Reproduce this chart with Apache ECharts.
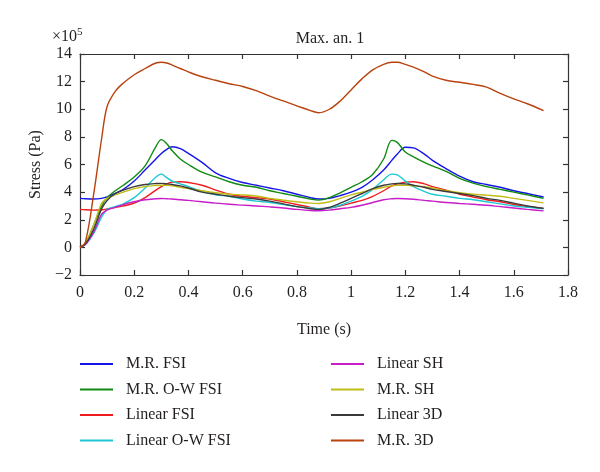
<!DOCTYPE html>
<html>
<head>
<meta charset="utf-8">
<script src="https://cdn.jsdelivr.net/npm/echarts@6/dist/echarts.min.js"></script>
<style>html,body{margin:0;padding:0;background:#fff}#c{width:600px;height:472px}</style>
</head>
<body>
<div id="c"></div>
<script>
// Time (s)
const time = [0,0.02,0.05,0.08,0.1,0.13,0.16,0.2,0.24,0.28,0.3,0.32,0.34,0.37,0.4,0.45,0.5,0.55,0.6,0.65,0.7,0.75,0.8,0.85,0.88,0.92,0.96,1.0,1.04,1.08,1.12,1.15,1.17,1.2,1.23,1.27,1.3,1.35,1.4,1.45,1.5,1.55,1.6,1.65,1.71];
// Stress values (x1e5 Pa)
const mrFSI = [3.55,3.52,3.5,3.55,3.65,3.9,4.2,4.8,5.6,6.4,6.8,7.1,7.28,7.15,6.8,6.15,5.4,5.0,4.7,4.5,4.3,4.1,3.85,3.6,3.5,3.55,3.75,4.0,4.35,4.9,5.6,6.3,6.75,7.25,7.2,6.75,6.3,5.7,5.15,4.75,4.55,4.35,4.1,3.9,3.65];
const mrOWFSI = [0,0.3,1.6,3.0,3.6,4.1,4.5,5.1,5.9,7.3,7.8,7.5,7.0,6.4,6.0,5.45,5.1,4.75,4.5,4.35,4.1,3.9,3.7,3.5,3.42,3.6,3.95,4.35,4.75,5.3,6.4,7.75,7.6,6.9,6.55,6.15,5.9,5.5,5.0,4.65,4.4,4.2,4.0,3.8,3.55];
const linFSI = [2.75,2.72,2.7,2.72,2.78,2.9,3.0,3.2,3.6,4.15,4.4,4.6,4.72,4.75,4.7,4.5,4.15,3.85,3.7,3.6,3.5,3.3,3.1,2.9,2.8,2.85,3.0,3.2,3.4,3.7,4.1,4.45,4.6,4.72,4.75,4.6,4.4,4.15,3.85,3.65,3.45,3.3,3.1,2.95,2.82];
const linOWFSI = [0,0.2,1.0,2.2,2.75,2.95,3.15,3.6,4.3,5.1,5.3,5.05,4.8,4.6,4.4,4.05,3.8,3.7,3.5,3.35,3.25,3.1,2.95,2.85,2.8,2.85,3.05,3.35,3.7,4.2,4.9,5.3,5.25,4.8,4.4,4.05,3.85,3.7,3.55,3.45,3.3,3.15,3.0,2.9,2.8];
const linSH = [0,0.2,1.1,2.4,2.7,2.9,3.1,3.3,3.45,3.52,3.54,3.52,3.5,3.45,3.4,3.3,3.2,3.12,3.06,3.0,2.93,2.85,2.75,2.67,2.65,2.7,2.8,2.9,3.05,3.25,3.45,3.52,3.54,3.52,3.48,3.4,3.35,3.25,3.18,3.12,3.05,2.95,2.85,2.75,2.64];
const mrSH = [0,0.3,1.6,3.2,3.55,3.8,4.0,4.25,4.4,4.48,4.5,4.5,4.45,4.35,4.25,4.1,3.95,3.85,3.8,3.72,3.55,3.42,3.3,3.2,3.18,3.3,3.55,3.8,4.0,4.2,4.35,4.45,4.5,4.5,4.45,4.4,4.3,4.1,3.95,3.85,3.78,3.7,3.55,3.4,3.22];
const lin3D = [0,0.25,1.3,2.8,3.4,3.9,4.15,4.4,4.55,4.62,4.63,4.6,4.55,4.45,4.3,4.0,3.85,3.7,3.6,3.5,3.35,3.15,2.95,2.8,2.75,2.9,3.2,3.55,3.9,4.25,4.5,4.6,4.62,4.6,4.5,4.35,4.2,4.05,3.9,3.75,3.55,3.4,3.2,3.0,2.82];
const mr3D = [0,0.4,3.8,7.9,10.2,11.3,11.9,12.5,12.95,13.35,13.4,13.35,13.2,12.95,12.7,12.35,12.1,11.85,11.65,11.35,10.95,10.6,10.25,9.9,9.75,10.0,10.6,11.4,12.2,12.85,13.25,13.4,13.4,13.25,13.05,12.7,12.4,12.1,11.95,11.8,11.6,11.15,10.75,10.4,9.9];

const names = ['M.R. FSI','M.R. O-W FSI','Linear FSI','Linear O-W FSI','Linear SH','M.R. SH','Linear 3D','M.R. 3D'];
const values = [mrFSI, mrOWFSI, linFSI, linOWFSI, linSH, mrSH, lin3D, mr3D];
const colors = ['#1414e6','#108a10','#ee1c1c','#1cc8d4','#c81cc8','#c2bc14','#3a3a3a','#b8430f'];
const xTicks = [0,0.2,0.4,0.6,0.8,1,1.2,1.4,1.6,1.8];
const yTicks = [-2,0,2,4,6,8,10,12,14];

const FONT = 'Liberation Serif';
const TXT = '#231f20';
const chart = echarts.init(document.getElementById('c'), null, {renderer:'canvas'});

const axisCommon = {
  axisLine:{show:true, onZero:false, lineStyle:{color:'#333', width:1.2}},
  axisTick:{show:true, inside:true, length:5, lineStyle:{color:'#333', width:1.2}},
  splitLine:{show:false}
};

chart.setOption({
  animation:false,
  backgroundColor:'#fff',
  title:{text:'Max. an. 1', left:325, top:26, textAlign:'center',
    textStyle:{fontFamily:FONT, fontSize:16, fontWeight:'normal', color:TXT}},
  grid:{left:80, right:32, top:54, bottom:197},
  graphic:[{type:'text', left:52, top:27,
    style:{text:'×10{s|5}', rich:{s:{fontSize:11, fontFamily:FONT, fill:TXT, verticalAlign:'top', padding:[0,0,8,0]}},
      font:'16px "Liberation Serif"', fill:TXT}}],
  xAxis:[
    Object.assign({type:'value', min:0, max:1.8, interval:0.2, position:'bottom',
      name:'Time (s)', nameLocation:'middle', nameGap:47,
      nameTextStyle:{fontFamily:FONT, fontSize:16, color:TXT},
      axisLabel:{margin:10, fontFamily:FONT, fontSize:16, color:TXT,
        formatter:v=>{const f=xTicks.find(t=>Math.abs(t-v)<1e-6); return f===undefined?'':String(f);}}}, axisCommon),
    Object.assign({type:'value', min:0, max:1.8, interval:0.2, position:'top', axisLabel:{show:false}}, axisCommon)
  ],
  yAxis:[
    Object.assign({type:'value', min:-2, max:14, interval:2, position:'left',
      name:'Stress (Pa)', nameLocation:'middle', nameGap:31,
      nameTextStyle:{fontFamily:FONT, fontSize:16, color:TXT},
      axisLabel:{margin:8, fontFamily:FONT, fontSize:16, color:TXT,
        formatter:v=>{const f=yTicks.find(t=>Math.abs(t-v)<1e-6); return f===undefined?'':(f<0?'\u2212'+(-f):String(f));}}}, axisCommon),
    Object.assign({type:'value', min:-2, max:14, interval:2, position:'right', axisLabel:{show:false}}, axisCommon)
  ],
  legend:[
    {data:names.slice(0,4), orient:'vertical', left:80, top:355, padding:0, itemWidth:33, itemHeight:2, itemGap:7.5, icon:'rect',
      textStyle:{fontFamily:FONT, fontSize:16, color:TXT, lineHeight:18, padding:[0,0,0,8]}},
    {data:names.slice(4), orient:'vertical', left:331, top:355, padding:0, itemWidth:33, itemHeight:2, itemGap:7.5, icon:'rect',
      textStyle:{fontFamily:FONT, fontSize:16, color:TXT, lineHeight:18, padding:[0,0,0,8]}}
  ],
  series: names.map((n,k)=>({
    name:n, type:'line', xAxisIndex:0, yAxisIndex:0, showSymbol:false, symbol:'none', smooth:0.35,
    color:colors[k], lineStyle:{width:1.4, color:colors[k]},
    data: time.map((t,i)=>[t, values[k][i]])
  }))
});
</script>
</body>
</html>
